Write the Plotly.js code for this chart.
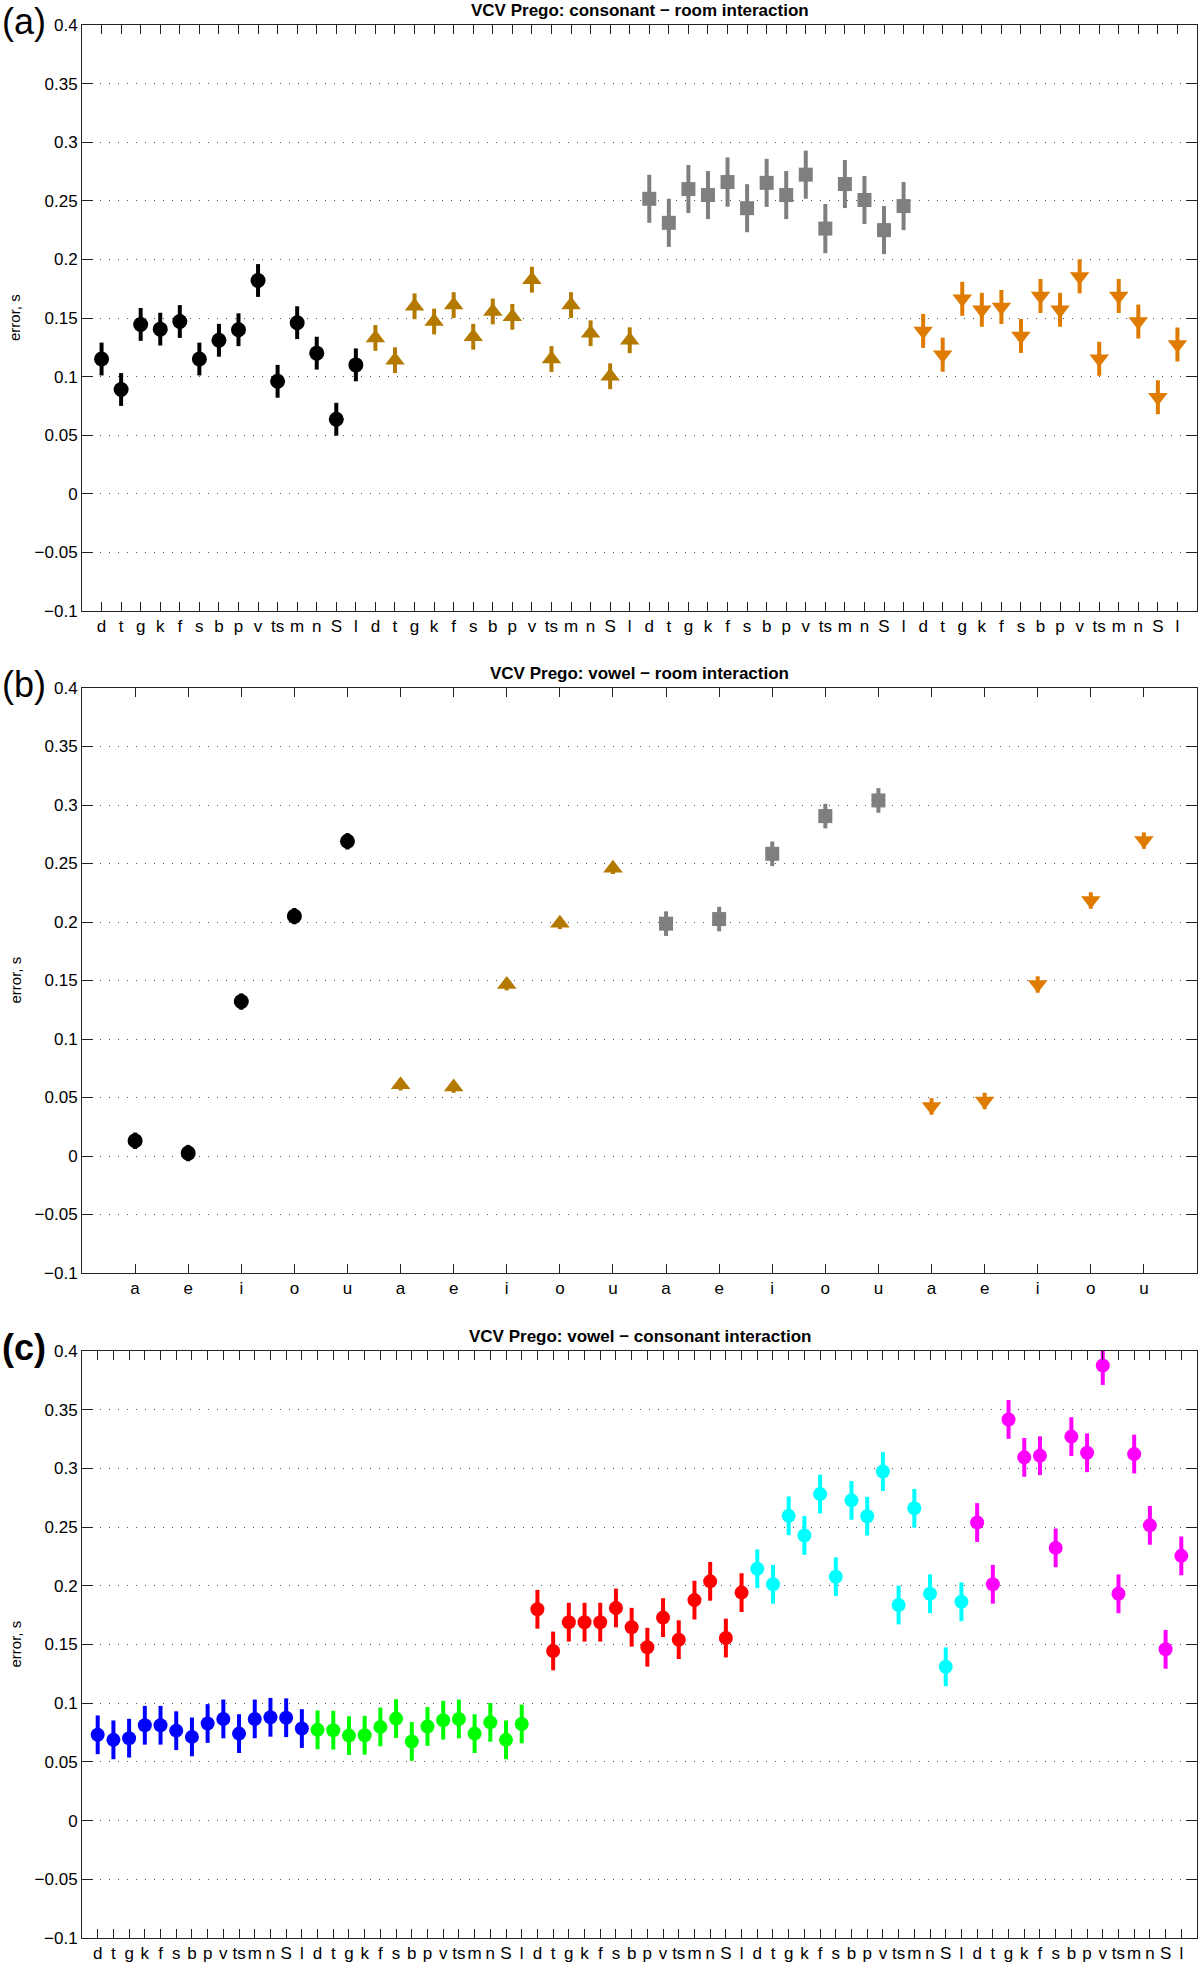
<!DOCTYPE html>
<html>
<head>
<meta charset="utf-8">
<script src="https://cdn.plot.ly/plotly-3.0.1.min.js"></script>
<style>
  html, body { margin: 0; padding: 0; background: #fff; }
  #chart { width: 1200px; height: 1964px; }
</style>
</head>
<body>
<div id="chart"></div>
<script>
// Category labels
const consonants = ['d', 't', 'g', 'k', 'f', 's', 'b', 'p', 'v', 'ts', 'm', 'n', 'S', 'l'];
const vowels = ['a', 'e', 'i', 'o', 'u'];
const yTickVals = [-0.1, -0.05, 0, 0.05, 0.1, 0.15, 0.2, 0.25, 0.3, 0.35, 0.4];
const yTickLabels = ['\u22120.1', '\u22120.05', '0', '0.05', '0.1', '0.15', '0.2', '0.25', '0.3', '0.35', '0.4'];

// (a) consonant - room interaction, one array per room
const consRoom1 = [0.115, 0.089, 0.1445, 0.1405, 0.147, 0.115, 0.131, 0.140, 0.182, 0.096, 0.146, 0.120, 0.0636, 0.110];
const consRoom2 = [0.133, 0.114, 0.160, 0.147, 0.161, 0.134, 0.1556, 0.151, 0.1827, 0.115, 0.161, 0.137, 0.1003, 0.131];
const consRoom3 = [0.2517, 0.2312, 0.260, 0.2549, 0.266, 0.2437, 0.2653, 0.2549, 0.2723, 0.2263, 0.2643, 0.2507, 0.225, 0.2455];
const consRoom4 = [0.139, 0.1187, 0.1664, 0.157, 0.1594, 0.1347, 0.1688, 0.157, 0.1855, 0.1152, 0.1688, 0.147, 0.0824, 0.1274];
const consRoom1Err = [0.014, 0.014, 0.014, 0.014, 0.014, 0.014, 0.014, 0.014, 0.014, 0.014, 0.014, 0.014, 0.014, 0.014];
const consRoom2Err = [0.011, 0.011, 0.011, 0.011, 0.011, 0.011, 0.011, 0.011, 0.011, 0.011, 0.011, 0.011, 0.011, 0.011];
const consRoom3Err = [0.0205, 0.0205, 0.0205, 0.0205, 0.021, 0.0205, 0.0205, 0.0205, 0.0205, 0.021, 0.0205, 0.0205, 0.0205, 0.0205];
const consRoom4Err = [0.0145, 0.0145, 0.0145, 0.0145, 0.0145, 0.0145, 0.0145, 0.0145, 0.0145, 0.0145, 0.0145, 0.0145, 0.0145, 0.0145];

// (b) vowel - room interaction
const vowRoom1 = [0.013, 0.0025, 0.132, 0.205, 0.269];
const vowRoom2 = [0.061, 0.059, 0.1466, 0.199, 0.246];
const vowRoom3 = [0.1986, 0.2025, 0.2583, 0.2905, 0.3039];
const vowRoom4 = [0.0424, 0.047, 0.1466, 0.2184, 0.2696];
const vowRoom1Err = [0.007, 0.007, 0.007, 0.007, 0.007];
const vowRoom2Err = [0.005, 0.005, 0.005, 0.005, 0.005];
const vowRoom3Err = [0.0105, 0.0105, 0.0105, 0.0105, 0.0105];
const vowRoom4Err = [0.007, 0.007, 0.007, 0.007, 0.007];

// (c) vowel - consonant interaction, one array per vowel
const vowConsA = [0.0731, 0.0688, 0.0702, 0.0812, 0.0812, 0.0766, 0.0713, 0.0827, 0.0866, 0.0741, 0.0866, 0.088, 0.0876, 0.0784];
const vowConsE = [0.0773, 0.077, 0.0724, 0.0727, 0.0798, 0.0869, 0.0674, 0.0802, 0.0855, 0.0866, 0.0741, 0.0837, 0.0688, 0.0823];
const vowConsI = [0.18, 0.1445, 0.169, 0.169, 0.169, 0.1811, 0.1647, 0.1477, 0.1729, 0.1541, 0.1878, 0.2038, 0.1555, 0.1942];
const vowConsO = [0.2145, 0.2013, 0.2596, 0.2429, 0.2781, 0.2077, 0.2728, 0.2593, 0.2973, 0.1836, 0.266, 0.1932, 0.131, 0.1864];
const vowConsU = [0.2539, 0.2013, 0.3417, 0.3094, 0.3108, 0.2323, 0.3271, 0.3133, 0.3876, 0.1932, 0.3122, 0.2515, 0.1459, 0.2255];
const vowConsErr = [0.0165, 0.0165, 0.0165, 0.0165, 0.0165, 0.0165, 0.0165, 0.0165, 0.0165, 0.0165, 0.0165, 0.0165, 0.0165, 0.0165];

const FONT = 'Liberation Sans, Arial, Helvetica, sans-serif';

// One group of points with vertical error bars, placed after `offset` earlier points
function makeSeries(values, errs, offset, color, symbol, size, xa, ya) {
    return {
        x: values.map((v, i) => offset + i + 1),
        y: values,
        xaxis: xa,
        yaxis: ya,
        type: 'scatter',
        mode: 'markers',
        showlegend: false,
        hoverinfo: 'y',
        marker: { color: color, symbol: symbol, size: size, line: { width: 0 } },
        error_y: { type: 'data', array: errs, visible: true, color: color, thickness: 4, width: 0 }
    };
}

const brown = '#b47a00';
const orange = '#df7b00';
const gray = '#7f7f7f';

const nc = consonants.length;
const nv = vowels.length;

const traces = [
    makeSeries(consRoom1, consRoom1Err, 0, '#000000', 'circle', 15, 'x', 'y'),
    makeSeries(consRoom2, consRoom2Err, nc, brown, 'triangle-up', 17, 'x', 'y'),
    makeSeries(consRoom3, consRoom3Err, 2 * nc, gray, 'square', 14, 'x', 'y'),
    makeSeries(consRoom4, consRoom4Err, 3 * nc, orange, 'triangle-down', 17, 'x', 'y'),

    makeSeries(vowRoom1, vowRoom1Err, 0, '#000000', 'circle', 15, 'x2', 'y2'),
    makeSeries(vowRoom2, vowRoom2Err, nv, brown, 'triangle-up', 17, 'x2', 'y2'),
    makeSeries(vowRoom3, vowRoom3Err, 2 * nv, gray, 'square', 14, 'x2', 'y2'),
    makeSeries(vowRoom4, vowRoom4Err, 3 * nv, orange, 'triangle-down', 17, 'x2', 'y2'),

    makeSeries(vowConsA, vowConsErr, 0, '#0000ff', 'circle', 14, 'x3', 'y3'),
    makeSeries(vowConsE, vowConsErr, nc, '#00ff00', 'circle', 14, 'x3', 'y3'),
    makeSeries(vowConsI, vowConsErr, 2 * nc, '#ff0000', 'circle', 14, 'x3', 'y3'),
    makeSeries(vowConsO, vowConsErr, 3 * nc, '#00ffff', 'circle', 14, 'x3', 'y3'),
    makeSeries(vowConsU, vowConsErr, 4 * nc, '#ff00ff', 'circle', 14, 'x3', 'y3')
];

// repeated tick labels for each block
function repeatLabels(labels, times) {
    let out = [];
    for (let k = 0; k < times; k++) out = out.concat(labels);
    return out;
}

function xAxis(labels, times, anchor) {
    const text = repeatLabels(labels, times);
    return {
        domain: [82 / 1200, 1197 / 1200],
        anchor: anchor,
        range: [0, text.length + 1],
        tickvals: text.map((t, i) => i + 1),
        ticktext: text,
        tickangle: 0,
        ticks: 'inside',
        ticklen: 9,
        tickwidth: 1,
        tickcolor: '#222',
        showline: true,
        linecolor: '#222',
        linewidth: 1,
        mirror: 'ticks',
        showgrid: false,
        zeroline: false,
        fixedrange: true,
        tickfont: { family: FONT, size: 17, color: '#000' }
    };
}

function yAxis(topPx, bottomPx, anchor) {
    return {
        domain: [1 - bottomPx / 1964, 1 - topPx / 1964],
        anchor: anchor,
        range: [-0.1, 0.4],
        tickvals: yTickVals,
        ticktext: yTickLabels,
        ticks: 'inside',
        ticklen: 11,
        tickwidth: 1,
        tickcolor: '#222',
        showline: true,
        linecolor: '#222',
        linewidth: 1,
        mirror: 'ticks',
        showgrid: true,
        gridcolor: '#555',
        gridwidth: 1,
        griddash: '1px,8px',
        zeroline: false,
        fixedrange: true,
        tickfont: { family: FONT, size: 17, color: '#000' }
    };
}

// panel boxes in pixels: [top, bottom]
const boxes = [[25, 611], [688, 1273], [1351, 1938]];
const titles = [
    'VCV Prego: consonant \u2212 room interaction',
    'VCV Prego: vowel \u2212 room interaction',
    'VCV Prego: vowel \u2212 consonant interaction'
];
const panelTags = ['(a)', '(b)', '(c)'];

const annotations = [];
boxes.forEach((b, i) => {
    annotations.push({
        text: '<b>' + titles[i] + '</b>',
        xref: 'paper', yref: 'paper',
        x: 639.5 / 1200, y: 1 - (b[0] - 15) / 1964,
        xanchor: 'center', yanchor: 'middle',
        showarrow: false,
        font: { family: FONT, size: 17, color: '#000' }
    });
    annotations.push({
        text: i === 2 ? '<b>' + panelTags[i] + '</b>' : panelTags[i],
        xref: 'paper', yref: 'paper',
        x: 0, y: 1 - (b[0] - 4) / 1964,
        xanchor: 'left', yanchor: 'middle',
        showarrow: false,
        font: { family: FONT, size: 36, color: '#000' }
    });
    annotations.push({
        text: 'error, s',
        xref: 'paper', yref: 'paper',
        x: 15 / 1200, y: 1 - ((b[0] + b[1]) / 2) / 1964,
        xanchor: 'center', yanchor: 'middle',
        textangle: -90,
        showarrow: false,
        font: { family: FONT, size: 15, color: '#000' }
    });
});

const layout = {
    width: 1200,
    height: 1964,
    margin: { l: 0, r: 0, t: 0, b: 0 },
    paper_bgcolor: '#ffffff',
    plot_bgcolor: '#ffffff',
    showlegend: false,
    font: { family: FONT, color: '#000' },
    xaxis: xAxis(consonants, 4, 'y'),
    yaxis: yAxis(boxes[0][0], boxes[0][1], 'x'),
    xaxis2: xAxis(vowels, 4, 'y2'),
    yaxis2: yAxis(boxes[1][0], boxes[1][1], 'x2'),
    xaxis3: xAxis(consonants, 5, 'y3'),
    yaxis3: yAxis(boxes[2][0], boxes[2][1], 'x3'),
    annotations: annotations
};

Plotly.newPlot('chart', traces, layout, { displayModeBar: false, staticPlot: true });
</script>
</body>
</html>
